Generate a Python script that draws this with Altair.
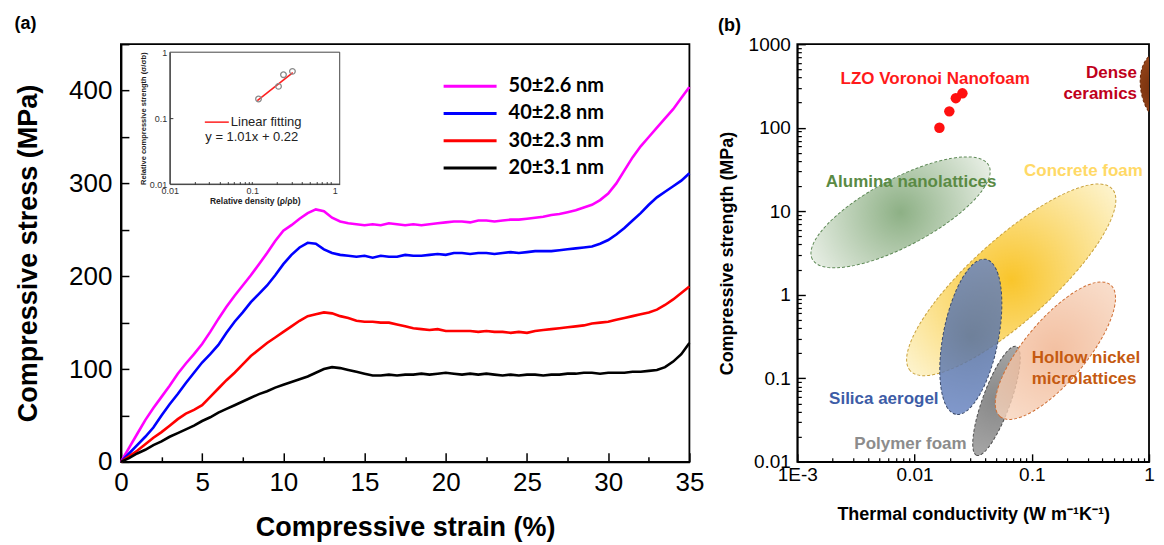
import altair as alt
import pandas as pd

FONT = "Liberation Sans"

# ----------------------------- panel (a) data -----------------------------
strain = [0, 0.5, 1, 1.5, 2, 2.5, 3, 3.5, 4, 4.5, 5, 5.5, 6, 6.5, 7, 7.5, 8, 8.5, 9, 9.5,
          10, 10.5, 11, 11.5, 12, 12.5, 13, 13.5, 14, 14.5, 15, 15.5, 16, 16.5, 17, 17.5,
          18, 18.5, 19, 19.5, 20, 20.5, 21, 21.5, 22, 22.5, 23, 23.5, 24, 24.5, 25, 25.5,
          26, 26.5, 27, 27.5, 28, 28.5, 29, 29.5, 30, 30.5, 31, 31.5, 32, 32.5, 33, 33.5,
          34, 34.5, 35]

stress_50 = [0, 15, 30, 45, 58, 70, 82, 95, 106, 116,
             127, 140, 154, 167, 179, 190, 201, 213, 225, 238,
             249, 255, 262, 268, 272, 270, 263, 259, 257, 256,
             255, 256, 255, 257, 256, 255, 256, 255, 256, 257,
             258, 259, 259, 258, 260, 260, 259, 260, 261, 261,
             262, 263, 264, 266, 267, 269, 271, 274, 277, 282,
             289, 300, 314, 328, 340, 350, 360, 370, 380, 392,
             404]
stress_40 = [0, 9, 18, 27, 37, 50, 62, 73, 85, 96,
             107, 116, 126, 139, 151, 161, 172, 181, 190, 201,
             213, 223, 231, 236, 235, 229, 225, 223, 222, 221,
             222, 220, 222, 221, 221, 223, 222, 222, 223, 224,
             223, 225, 225, 224, 225, 225, 224, 225, 226, 225,
             226, 227, 227, 227, 228, 229, 230, 231, 232, 235,
             239, 245, 252, 260, 268, 277, 285, 291, 297, 303,
             311]
stress_30 = [0, 6, 12, 19, 26, 32, 39, 46, 52, 56,
             61, 70, 79, 88, 96, 105, 114, 121, 128, 134,
             140, 146, 152, 157, 159, 161, 160, 157, 155, 152,
             151, 151, 150, 150, 148, 146, 144, 143, 142, 143,
             141, 141, 141, 141, 140, 141, 140, 140, 139, 140,
             139, 141, 142, 143, 144, 145, 146, 147, 149, 150,
             151, 153, 155, 157, 159, 161, 164, 169, 175, 182,
             189]
stress_20 = [0, 4, 9, 13, 18, 22, 27, 31, 35, 39,
             44, 48, 53, 57, 61, 65, 69, 73, 76, 80,
             83, 86, 89, 92, 96, 100, 102, 101, 99, 97,
             95, 93, 93, 94, 93, 94, 94, 95, 94, 95,
             96, 95, 94, 95, 94, 95, 94, 93, 94, 93,
             94, 94, 93, 94, 94, 95, 95, 96, 96, 95,
             96, 96, 96, 97, 97, 98, 99, 102, 108, 116,
             128]
series_labels = ["50±2.6 nm", "40±2.8 nm", "30±2.3 nm", "20±3.1 nm"]
series_colors = ["#ff00ff", "#0000ff", "#ff0000", "#000000"]

# inset (relative density vs relative strength)
inset_density = [0.119, 0.208, 0.239, 0.307]
inset_strength = [0.195, 0.303, 0.456, 0.512]
fit_density = [0.115, 0.31]
fit_strength = [0.185, 0.49]

# ----------------------------- panel (b) data -----------------------------
lzo_k = [0.0163, 0.0198, 0.0225, 0.0256]
lzo_s = [100, 157, 226, 258]

region_names = ["Concrete foam", "Alumina nanolattices", "Silica aerogel",
                "Polymer foam", "Hollow nickel microlattices", "Dense ceramics"]
region_k = [0.0668, 0.0076, 0.0302, 0.050, 0.159, 1.3]
region_s = [1.51, 9.7, 0.314, 0.0536, 0.214, 298]

label_text = ["LZO Voronoi Nanofoam", "Dense\nceramics", "Alumina nanolattices",
              "Concrete foam", "Hollow nickel\nmicrolattices", "Silica aerogel", "Polymer foam"]
label_k = [0.015, 0.79, 0.00935, 0.0859, 0.1, 0.00547, 0.00923]
label_s = [379, 451, 22.1, 30.4, 0.176, 0.0563, 0.0162]
label_color = ["#ff1a1a", "#c0001b", "#5a8a44", "#ffd966", "#c55a11", "#3d5ca6", "#8c8c8c"]
label_align = ["center", "right", "center", "left", "left", "center", "center"]

# styles for the regions (shape geometry in px, colours)
region_style = {
    "Concrete foam": dict(major=272, ratio=0.30, tilt=42, c0="#f9c52b", c1="#fdf3cc", stroke="#c9a23e", op=1.0),
    "Alumina nanolattices": dict(major=200, ratio=0.335, tilt=28, c0="#8db085", c1="#e7eee4", stroke="#5f8a57", op=1.0),
    "Silica aerogel": dict(major=158, ratio=0.35, tilt=79, c0="#56709f", c1="#6a86c2", stroke="#3b4a6b", op=0.85),
    "Polymer foam": dict(major=116, ratio=0.24, tilt=70, c0="#787878", c1="#9a9a9a", stroke="#505050", op=0.88),
    "Hollow nickel microlattices": dict(major=172, ratio=0.36, tilt=50, c0="#f0b08a", c1="#f7d5be", stroke="#cf6f35", op=0.8),
    "Dense ceramics": dict(major=72, ratio=0.6, tilt=100, c0="#6a2604", c1="#9b4a1f", stroke="#6a2604", op=1.0),
}

# ============================== panel (a) ==============================
W_A, H_A = 569, 418

rows = []
for lab, vals in zip(series_labels, [stress_50, stress_40, stress_30, stress_20]):
    for x, y in zip(strain, vals):
        rows.append({"strain": x, "stress": y, "series": lab})
df_a = pd.DataFrame(rows)

xs_a = alt.Scale(domain=[0, 35], nice=False, zero=False)
ys_a = alt.Scale(domain=[0, 450], nice=False)
color_a = alt.Color("series:N", scale=alt.Scale(domain=series_labels, range=series_colors), legend=None)


def tick_axis(orient, offset, values, size, width=1.5):
    return alt.Axis(orient=orient, offset=offset, values=values, tickSize=size, tickWidth=width,
                    tickColor="black", labels=False, domain=False, grid=False, title=None)


lines = alt.Chart(df_a).mark_line(strokeWidth=2.6).encode(
    x=alt.X("strain:Q", scale=xs_a, axis=alt.Axis(
        orient="bottom", title="Compressive strain (%)", values=[0, 5, 10, 15, 20, 25, 30, 35],
        ticks=False, labelPadding=8, labelFontSize=26, labelFont=FONT, labelColor="black",
        labelFlush=False, titleFont=FONT, titleFontSize=27, titleFontWeight="bold",
        titleColor="black", titlePadding=19, domainColor="black", domainWidth=2, grid=False,
        format="d")),
    y=alt.Y("stress:Q", scale=ys_a, axis=alt.Axis(
        orient="left", title="Compressive stress (MPa)", values=[0, 100, 200, 300, 400],
        ticks=False, labelPadding=9, labelFontSize=26, labelFont=FONT, labelColor="black",
        labelFlush=False, titleFont=FONT, titleFontSize=27, titleFontWeight="bold",
        titleColor="black", titlePadding=26, domainColor="black", domainWidth=2, grid=False,
        format="d")),
    color=color_a,
)

ticks_major_a = alt.Chart(df_a).mark_line(opacity=0).encode(
    x=alt.X("strain:Q", scale=xs_a, axis=tick_axis("top", -H_A, [0, 5, 10, 15, 20, 25, 30, 35], 9)),
    y=alt.Y("stress:Q", scale=ys_a, axis=tick_axis("right", -W_A, [0, 50, 100, 150, 200, 250, 300, 350, 400, 450], 8)),
)
ticks_minor_a = alt.Chart(df_a).mark_line(opacity=0).encode(
    x=alt.X("strain:Q", scale=xs_a, axis=tick_axis("top", -H_A, [2.5, 7.5, 12.5, 17.5, 22.5, 27.5, 32.5], 5)),
    y=alt.Y("stress:Q", scale=ys_a, axis=None),
)

# ---- inset ----
IN_L, IN_R, IN_T, IN_B = 49, 219, 8, 140
xs_in = alt.Scale(type="log", domain=[0.01, 1.15], range=[IN_L, IN_R], nice=False)
ys_in = alt.Scale(type="log", domain=[0.01, 1], range=[IN_B, IN_T], nice=False)
df_in = pd.DataFrame({"rd": inset_density, "rs": inset_strength})
df_fit = pd.DataFrame({"rd": fit_density, "rs": fit_strength})
one = pd.DataFrame({"a": [0]})

inset_frame = alt.Chart(one).mark_rect(fillOpacity=0, stroke="#444", strokeWidth=1).encode(
    x=alt.XDatum(0.01, scale=xs_in, axis=None), x2=alt.X2Datum(1.15),
    y=alt.YDatum(0.01, scale=ys_in, axis=None), y2=alt.Y2Datum(1),
)
inset_pts = alt.Chart(df_in).mark_point(shape="circle", size=32, filled=False, stroke="#8a8a8a",
                                        strokeWidth=1.3, opacity=1).encode(
    x=alt.X("rd:Q", scale=xs_in, axis=alt.Axis(
        orient="bottom", offset=-(H_A - IN_B), values=[0.01, 0.1, 1], format="~g", ticks=False,
        labelFontSize=9, labelFont=FONT, labelColor="#333", labelPadding=2, labelFlush=False,
        labelOverlap=False, title="Relative density (ρ/ρb)", titleFont=FONT, titleFontSize=8.5,
        titleFontWeight="bold", titleColor="#222", titlePadding=1, domainColor="#444",
        domainWidth=1, grid=False)),
    y=alt.Y("rs:Q", scale=ys_in, axis=alt.Axis(
        orient="left", offset=-IN_L, values=[0.01, 0.1, 1], format="~g", ticks=False,
        labelFontSize=9, labelFont=FONT, labelColor="#333", labelPadding=3, labelFlush=False,
        labelOverlap=False, title="Relative compressive strength (σ/σb)", titleFont=FONT,
        titleFontSize=7.5, titleFontWeight="bold", titleColor="#222", titlePadding=2,
        domainColor="#444", domainWidth=1, grid=False)),
)
inset_fit = alt.Chart(df_fit).mark_line(color="#ff2020", strokeWidth=1.6).encode(
    x=alt.X("rd:Q", scale=xs_in, axis=None),
    y=alt.Y("rs:Q", scale=ys_in, axis=None),
)
inset_minor = [0.02, 0.03, 0.04, 0.05, 0.06, 0.07, 0.08, 0.09, 0.1,
               0.2, 0.3, 0.4, 0.5, 0.6, 0.7, 0.8, 0.9]
inset_ticks = alt.Chart(df_in).mark_point(opacity=0).encode(
    x=alt.X("rd:Q", scale=xs_in, axis=tick_axis("top", -IN_B, inset_minor, 2.5, 0.8)),
    y=alt.Y("rs:Q", scale=ys_in, axis=tick_axis("right", -(W_A - IN_L), [0.1], 3, 0.8)),
)
inset_leg_rule = alt.Chart(one).mark_rule(color="#ff2020", strokeWidth=1.5).encode(
    x=alt.value(84), x2=alt.value(108), y=alt.value(78))
inset_leg_text = alt.Chart(one).mark_text(text="Linear fitting", align="left", baseline="middle",
                                          font=FONT, fontSize=13, color="#222").encode(
    x=alt.value(110), y=alt.value(78))
inset_eq = alt.Chart(one).mark_text(text="y = 1.01x + 0.22", align="center", baseline="middle",
                                    font=FONT, fontSize=13, color="#222").encode(
    x=alt.value(131), y=alt.value(93))

# ---- main legend ----
df_leg = pd.DataFrame({"series": series_labels})
leg_y = alt.Y("series:N", scale=alt.Scale(type="point", domain=series_labels, range=[42, 124], padding=0), axis=None)
leg_rule = alt.Chart(df_leg).mark_rule(strokeWidth=3).encode(
    x=alt.value(323), x2=alt.value(376), y=leg_y, color=color_a)
leg_text = alt.Chart(df_leg).mark_text(align="left", baseline="middle", font="Lato", fontSize=20,
                                       fontWeight="bold", color="black").encode(
    x=alt.value(388), y=leg_y, text="series:N")

panel_a = alt.layer(
    lines, ticks_major_a, ticks_minor_a,
    inset_frame, inset_fit, inset_pts, inset_ticks, inset_leg_rule, inset_leg_text, inset_eq,
    leg_rule, leg_text,
).resolve_scale(x="independent", y="independent").properties(
    width=W_A, height=H_A,
    title=alt.Title("(a)", anchor="start", frame="bounds", fontSize=18, font=FONT,
                    fontWeight="bold", color="black", offset=10),
)

# ============================== panel (b) ==============================
W_B, H_B = 352, 418
xs_b = alt.Scale(type="log", domain=[0.001, 1], nice=False)
ys_b = alt.Scale(type="log", domain=[0.01, 1000], nice=False)

df_reg = pd.DataFrame({"region": region_names, "k": region_k, "s": region_s})
df_lzo = pd.DataFrame({"k": lzo_k, "s": lzo_s})
df_lab = pd.DataFrame({"text": label_text, "k": label_k, "s": label_s,
                       "color": label_color, "align": label_align})


def ellipse_path(r):
    return f"M -1 0 A 1 {r} 0 1 1 1 0 A 1 {r} 0 1 1 -1 0 Z"


region_layers = []
for name in region_names:
    st = region_style[name]
    grad = alt.RadialGradient(
        gradient="radial",
        stops=[alt.GradientStop(offset=0, color=st["c0"]), alt.GradientStop(offset=1, color=st["c1"])],
        x1=0.5, y1=0.5, r1=0, x2=0.5, y2=0.5, r2=0.5)
    region_layers.append(
        alt.Chart(df_reg).transform_filter(alt.datum.region == name).mark_point(
            shape=ellipse_path(st["ratio"]), size=st["major"] ** 2, angle=360 - st["tilt"],
            filled=True, fill=grad, fillOpacity=st["op"], opacity=1, stroke=st["stroke"],
            strokeWidth=1, strokeDash=[3, 2], clip=True,
        ).encode(
            x=alt.X("k:Q", scale=xs_b, axis=None),
            y=alt.Y("s:Q", scale=ys_b, axis=None),
        )
    )

lzo = alt.Chart(df_lzo).mark_point(shape="circle", size=110, filled=True, color="#ff1010", opacity=1).encode(
    x=alt.X("k:Q", scale=xs_b, axis=alt.Axis(
        orient="bottom", values=[0.001, 0.01, 0.1, 1], format="~g",
        labelExpr="datum.value < 0.002 ? '1E-3' : datum.label",
        ticks=False, labelFontSize=19, labelFont=FONT, labelColor="black", labelPadding=4,
        labelFlush=False, labelOverlap=False, title="Thermal conductivity (W m⁻¹K⁻¹)",
        titleFont=FONT, titleFontSize=18, titleFontWeight="bold", titleColor="black",
        titlePadding=21, domainColor="black", domainWidth=1.5, grid=False)),
    y=alt.Y("s:Q", scale=ys_b, axis=alt.Axis(
        orient="left", values=[0.01, 0.1, 1, 10, 100, 1000], format="~g", ticks=False,
        labelFontSize=19, labelFont=FONT, labelColor="black", labelPadding=7, labelFlush=False,
        labelOverlap=False, title="Compressive strength (MPa)", titleFont=FONT, titleFontSize=18,
        titleFontWeight="bold", titleColor="black", titlePadding=12, domainColor="black",
        domainWidth=1.5, grid=False)),
)

x_major_b = [0.001, 0.01, 0.1, 1]
y_major_b = [0.01, 0.1, 1, 10, 100, 1000]
x_minor_b = [round(m * 10.0 ** e, 6) for e in (-3, -2, -1) for m in range(2, 10)]
y_minor_b = [round(m * 10.0 ** e, 6) for e in (-2, -1, 0, 1, 2) for m in range(2, 10)]

ticks_major_b = alt.Chart(df_lzo).mark_point(opacity=0).encode(
    x=alt.X("k:Q", scale=xs_b, axis=tick_axis("top", -H_B, x_major_b, 8, 1.4)),
    y=alt.Y("s:Q", scale=ys_b, axis=tick_axis("right", -W_B, y_major_b, 8, 1.4)),
)
ticks_minor_b = alt.Chart(df_lzo).mark_point(opacity=0).encode(
    x=alt.X("k:Q", scale=xs_b, axis=tick_axis("top", -H_B, x_minor_b, 4, 1.2)),
    y=alt.Y("s:Q", scale=ys_b, axis=tick_axis("right", -W_B, y_minor_b, 4, 1.2)),
)

text_layers = []
for al in ["center", "left", "right"]:
    text_layers.append(
        alt.Chart(df_lab).transform_filter(alt.datum.align == al).mark_text(
            align=al, baseline="middle", font=FONT, fontSize=17, fontWeight="bold",
            lineBreak="\n", lineHeight=21, clip=True,
        ).encode(
            x=alt.X("k:Q", scale=xs_b, axis=None),
            y=alt.Y("s:Q", scale=ys_b, axis=None),
            text="text:N",
            color=alt.Color("color:N", scale=None),
        )
    )

panel_b = alt.layer(
    *region_layers, lzo, ticks_major_b, ticks_minor_b, *text_layers,
).resolve_axis(x="independent", y="independent").properties(
    width=W_B, height=H_B,
    title=alt.Title("(b)", anchor="start", frame="bounds", fontSize=18, font=FONT,
                    fontWeight="bold", color="black", offset=0),
)

chart = alt.hconcat(panel_a, panel_b, spacing=11).properties(
    padding={"left": 5, "top": 6, "right": 0, "bottom": 0}
).configure_view(stroke="black", strokeWidth=1.8)

chart.save("out.html", embed_options={"renderer": "svg", "actions": False})
